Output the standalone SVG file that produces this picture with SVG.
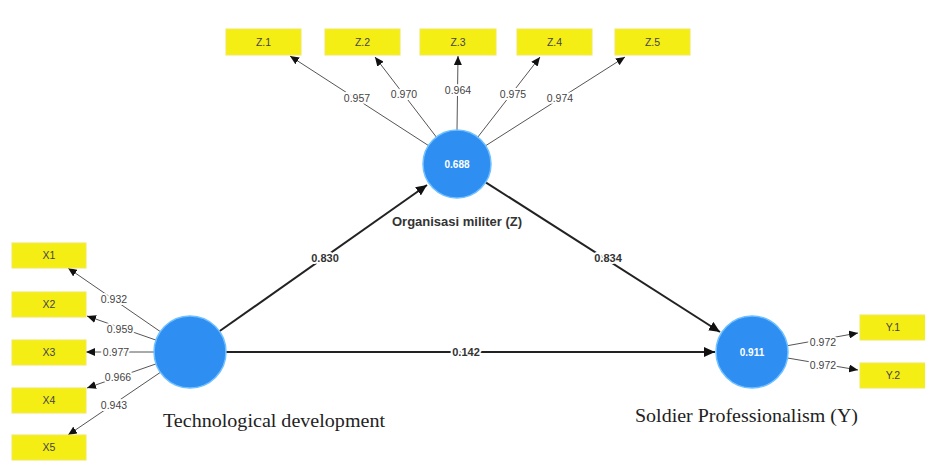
<svg xmlns="http://www.w3.org/2000/svg" width="925" height="461" viewBox="0 0 925 461">
<style>
.ind{fill:#f5ee14;stroke:#f0e85a;stroke-width:1}
.indt{font-family:"Liberation Sans",Arial,sans-serif;font-size:10.5px;fill:#444;text-anchor:middle}
.lv{fill:#2e8ef2;stroke:#6ec0ff;stroke-width:1.5}
.lvt{font-family:"Liberation Sans",Arial,sans-serif;font-size:10px;fill:#ffffff;text-anchor:middle;font-weight:bold}
.oline{stroke:#555;stroke-width:1;fill:none}
.sline{stroke:#222;stroke-width:2;fill:none}
.lbl{font-family:"Liberation Sans",Arial,sans-serif;font-size:10.5px;fill:#444;text-anchor:middle;stroke:#fff;stroke-width:4;paint-order:stroke;stroke-linejoin:round}
.slbl{font-family:"Liberation Sans",Arial,sans-serif;font-size:11px;fill:#333;text-anchor:middle;font-weight:bold;stroke:#fff;stroke-width:4;paint-order:stroke;stroke-linejoin:round}
.name{font-family:"Liberation Serif","Times New Roman",serif;font-size:19px;fill:#222}
.namez{font-family:"Liberation Sans",Arial,sans-serif;font-size:13px;fill:#333;font-weight:bold;text-anchor:middle}
</style>
<defs>
<marker id="ah" markerUnits="userSpaceOnUse" markerWidth="12" markerHeight="10" refX="11" refY="5" orient="auto">
<path d="M0,0 L11,5 L0,10 Z" fill="#111"/>
</marker>
<marker id="ahs" markerUnits="userSpaceOnUse" markerWidth="10" markerHeight="8" refX="9" refY="4" orient="auto">
<path d="M0,0 L9,4 L0,8 Z" fill="#111"/>
</marker>
</defs>

<g id="connectors">
<line class="oline" x1="428.4" y1="145.5" x2="290" y2="56" marker-end="url(#ahs)"/>
<line class="oline" x1="436.3" y1="137" x2="375" y2="57" marker-end="url(#ahs)"/>
<line class="oline" x1="457" y1="130" x2="458" y2="56" marker-end="url(#ahs)"/>
<line class="oline" x1="477.8" y1="137.1" x2="540" y2="57" marker-end="url(#ahs)"/>
<line class="oline" x1="485.7" y1="145.7" x2="625" y2="57" marker-end="url(#ahs)"/>
<line class="oline" x1="160.3" y1="331.6" x2="68" y2="268" marker-end="url(#ahs)"/>
<line class="oline" x1="156" y1="340.1" x2="87" y2="316" marker-end="url(#ahs)"/>
<line class="oline" x1="154" y1="352" x2="86" y2="352" marker-end="url(#ahs)"/>
<line class="oline" x1="156" y1="363.9" x2="87" y2="388" marker-end="url(#ahs)"/>
<line class="oline" x1="160.3" y1="372.4" x2="68" y2="435" marker-end="url(#ahs)"/>
<line class="oline" x1="787.4" y1="345.7" x2="858" y2="333" marker-end="url(#ahs)"/>
<line class="oline" x1="787.5" y1="358" x2="858" y2="370" marker-end="url(#ahs)"/>
<line class="sline" x1="219.4" y1="331.3" x2="427" y2="185" marker-end="url(#ah)"/>
<line class="sline" x1="485.7" y1="182.3" x2="720" y2="332" marker-end="url(#ah)"/>
<line class="sline" x1="226" y1="352" x2="715" y2="352" marker-end="url(#ah)"/>
<text class="lbl" x="357" y="102">0.957</text>
<text class="lbl" x="404" y="98">0.970</text>
<text class="lbl" x="458" y="94">0.964</text>
<text class="lbl" x="513" y="98">0.975</text>
<text class="lbl" x="560" y="102">0.974</text>
<text class="lbl" x="114" y="303">0.932</text>
<text class="lbl" x="120" y="333">0.959</text>
<text class="lbl" x="116" y="356">0.977</text>
<text class="lbl" x="118" y="381">0.966</text>
<text class="lbl" x="114" y="409">0.943</text>
<text class="lbl" x="823" y="346">0.972</text>
<text class="lbl" x="823" y="369">0.972</text>
<text class="slbl" x="325" y="262">0.830</text>
<text class="slbl" x="608" y="262">0.834</text>
<text class="slbl" x="466" y="356">0.142</text>
</g>

<g id="Z1"><rect class="ind" x="226" y="29" width="75" height="26"/><text class="indt" x="263.5" y="46">Z.1</text></g>
<g id="Z2"><rect class="ind" x="325" y="29" width="75" height="26"/><text class="indt" x="362.5" y="46">Z.2</text></g>
<g id="Z3"><rect class="ind" x="420" y="29" width="76" height="26"/><text class="indt" x="458" y="46">Z.3</text></g>
<g id="Z4"><rect class="ind" x="517" y="29" width="75" height="26"/><text class="indt" x="554.5" y="46">Z.4</text></g>
<g id="Z5"><rect class="ind" x="615" y="29" width="75" height="26"/><text class="indt" x="652.5" y="46">Z.5</text></g>

<g id="X1"><rect class="ind" x="12" y="243" width="74" height="25"/><text class="indt" x="49" y="259">X1</text></g>
<g id="X2"><rect class="ind" x="12" y="292" width="74" height="25"/><text class="indt" x="49" y="308">X2</text></g>
<g id="X3"><rect class="ind" x="12" y="340" width="74" height="25"/><text class="indt" x="49" y="356">X3</text></g>
<g id="X4"><rect class="ind" x="12" y="388" width="74" height="25"/><text class="indt" x="49" y="404">X4</text></g>
<g id="X5"><rect class="ind" x="12" y="435" width="74" height="25"/><text class="indt" x="49" y="451">X5</text></g>

<g id="Y1"><rect class="ind" x="860" y="315" width="66" height="25"/><text class="indt" x="893" y="331">Y.1</text></g>
<g id="Y2"><rect class="ind" x="860" y="363" width="66" height="25"/><text class="indt" x="893" y="379">Y.2</text></g>

<g id="Z">
<circle class="lv" cx="457" cy="164" r="34"/>
<text class="lvt" x="457" y="168">0.688</text>
<text class="namez" x="457" y="226">Organisasi militer (Z)</text>
</g>
<g id="X">
<circle class="lv" cx="190" cy="352" r="36"/>
<text class="name" x="163" y="427" textLength="222" lengthAdjust="spacingAndGlyphs">Technological development</text>
</g>
<g id="Y">
<circle class="lv" cx="752" cy="352" r="36"/>
<text class="lvt" x="752" y="356">0.911</text>
<text class="name" x="635" y="422" textLength="223" lengthAdjust="spacingAndGlyphs">Soldier Professionalism (Y)</text>
</g>
</svg>
